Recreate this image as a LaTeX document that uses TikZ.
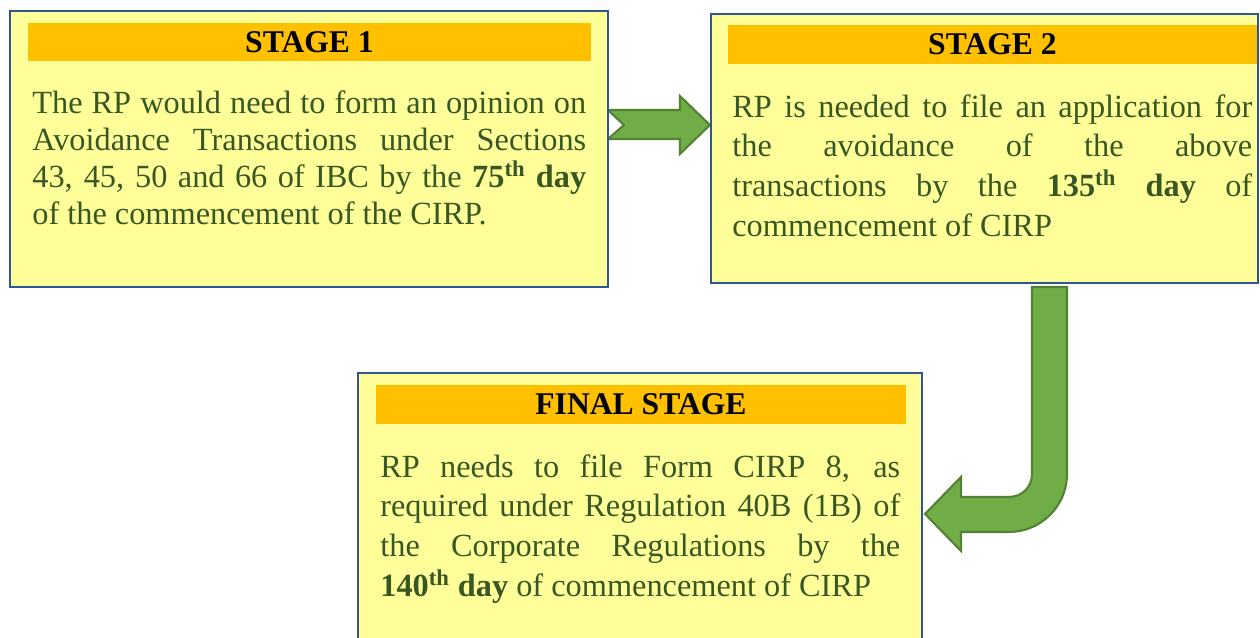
\documentclass[tikz,border=0pt]{standalone}
\usepackage{fontspec}
\setmainfont{Liberation Serif}
\usepackage{xcolor}
\usepackage{tikz}
\usetikzlibrary{calc,backgrounds}
\definecolor{stageyellow}{RGB}{255,255,153}
\definecolor{stageblue}{RGB}{47,85,151}
\definecolor{headamber}{RGB}{255,192,0}
\definecolor{arrowgreen}{RGB}{112,173,71}
\definecolor{arrowedge}{RGB}{84,130,53}
\definecolor{textgreen}{RGB}{56,87,35}

\begin{document}
\begin{tikzpicture}[x=0.02cm, y=-0.02cm,
  stagebox/.style={draw=stageblue, fill=stageyellow, line width=1.1pt, inner sep=0pt},
  headbar/.style={fill=headamber, inner sep=0pt, font=\fontsize{18}{20}\selectfont\bfseries},
  bodytext/.style={text=textgreen, inner sep=0pt, anchor=base west, align=justify, font=\fontsize{18.4}{22.7}\selectfont},
  fatarrow/.style={draw=arrowedge, fill=arrowgreen, line width=1.2pt, line join=miter}]
  \clip (0,0) rectangle (1260,637);
  % stage boxes
  \node[stagebox, minimum width=11.96cm, minimum height=5.52cm] (stageone) at (309,149) {};
  \node[stagebox, minimum width=10.94cm, minimum height=5.38cm] (stagetwo) at (984.5,148.5) {};
  \node[stagebox, minimum width=11.28cm, minimum height=5.54cm] (finalstage) at (640,511.5) {};
  % header bars
  \node[headbar, minimum width=11.26cm, minimum height=0.76cm] (s1head) at (309.5,42) {STAGE 1};
  \node[headbar, minimum width=10.58cm, minimum height=0.78cm] (s2head) at (992.5,44.5) {STAGE 2};
  \node[headbar, minimum width=10.6cm, minimum height=0.78cm] (fshead) at (641,404.5) {FINAL STAGE};
  % body texts
  \node[bodytext, text width=11.08cm, font=\fontsize{18.4}{21.2}\selectfont] (s1text) at (32,113)
    {The RP would need to form an opinion on\linebreak Avoidance Transactions under Sections\linebreak 43, 45, 50 and 66 of IBC by the \textbf{75\textsuperscript{th} day}\linebreak of the commencement of the CIRP.};
  \node[bodytext, text width=10.4cm] (s2text) at (732,117)
    {RP is needed to file an application for\linebreak the avoidance of the above\linebreak transactions by the \textbf{135\textsuperscript{th} day} of\linebreak commencement of CIRP};
  \node[bodytext, text width=10.4cm] (fstext) at (380,477)
    {RP needs to file Form CIRP 8, as\linebreak required under Regulation 40B (1B) of\linebreak the Corporate Regulations by the\linebreak \textbf{140\textsuperscript{th} day} of commencement of CIRP};
  % block arrows
  \begin{scope}[on background layer]
    \draw[fatarrow] ($(stageone.east)+(15,-24)$) -- ++(-16,-15) -- ++(72,0) -- ++(0,-14)
      -- ++(30,29) -- ++(-30,29) -- ++(0,-15) -- ++(-72,0) -- cycle;
    \draw[fatarrow] ($(stagetwo.south)+(47.5,3)$) -- ++(35,0) -- ++(0,187)
      .. controls +(0,32) and +(32,0) .. ++(-58,58) -- ++(-48,0) -- ++(0,19)
      -- ++(-36,-37) -- ++(36,-37) -- ++(0,20) -- ++(48,0)
      .. controls +(13,0) and +(0,13) .. ++(23,-23) -- cycle;
  \end{scope}
\end{tikzpicture}
\end{document}
